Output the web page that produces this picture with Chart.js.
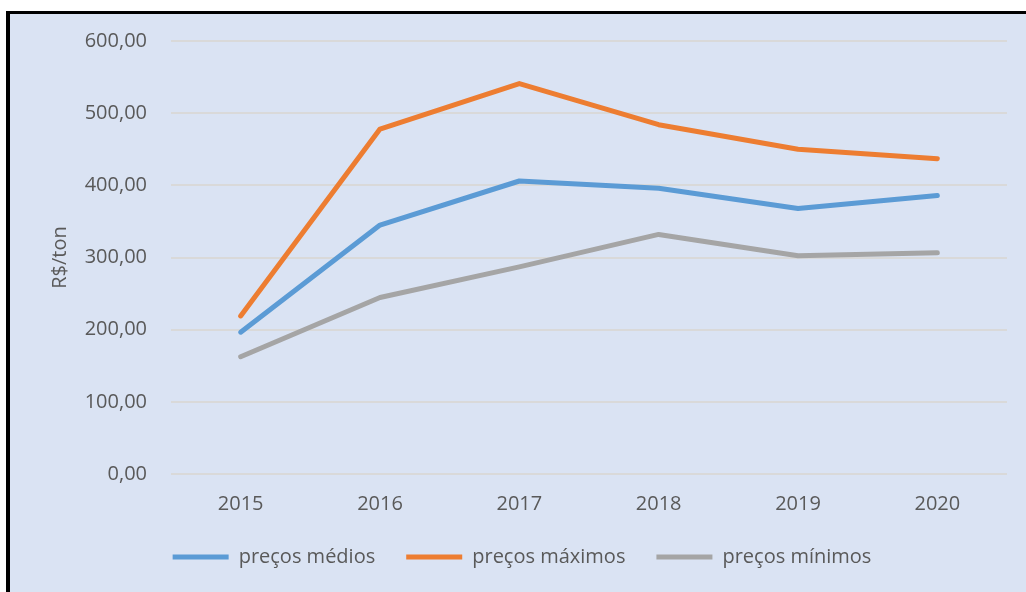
<!DOCTYPE html>
<html>
<head>
<meta charset="utf-8">
<script src="https://cdn.jsdelivr.net/npm/chart.js@4"></script>
<style>
    html, body { margin: 0; padding: 0; background: #ffffff; }
    #wrap { position: absolute; left: 0; top: 0; width: 1026px; height: 592px; }
</style>
</head>
<body>
<div id="wrap"><canvas id="priceChart" width="1026" height="592"></canvas></div>
<script>
const anos = ["2015", "2016", "2017", "2018", "2019", "2020"];
const precosMedios = [196.5, 345, 406, 396, 368, 386];
const precosMaximos = [219, 478, 541, 484, 450, 437];
const precosMinimos = [162.5, 244.5, 287, 332, 302.5, 306.5];

const textColor = "#595959";
const fontFamily = "'Open Sans', 'Noto Sans', sans-serif";

// fundo azul com borda preta (esquerda e topo)
const moldura = {
    id: "moldura",
    beforeDraw(chart) {
        const ctx = chart.ctx;
        ctx.save();
        ctx.fillStyle = "#ffffff";
        ctx.fillRect(0, 0, chart.width, chart.height);
        ctx.fillStyle = "#000000";
        ctx.fillRect(6, 11, chart.width - 6, chart.height - 11);
        ctx.fillStyle = "#DAE3F3";
        ctx.fillRect(10, 14, chart.width - 10, chart.height - 14);
        ctx.restore();
    }
};

// legenda um pouco deslocada para a direita
const legendShift = {
    id: "legendShift",
    afterLayout(chart) {
        chart.legend.left += 14;
        chart.legend.right += 14;
    }
};

function serie(label, data, color) {
    return {
        label: label,
        data: data,
        borderColor: color,
        backgroundColor: color,
        borderWidth: 5,
        borderCapStyle: "round",
        borderJoinStyle: "round",
        pointRadius: 0,
        tension: 0,
        fill: false
    };
}

new Chart(document.getElementById("priceChart"), {

    type: "line",

    data: {
        labels: anos,
        datasets: [
            serie("preços médios", precosMedios, "#5B9BD5"),
            serie("preços máximos", precosMaximos, "#ED7D31"),
            serie("preços mínimos", precosMinimos, "#A5A5A5")
        ]
    },

    options: {
        responsive: false,
        animation: false,
        layout: {
            padding: { left: 9, right: 19, top: 41, bottom: 16 }
        },
        plugins: {
            tooltip: { enabled: false },
            legend: {
                position: "bottom",
                maxHeight: 60,
                labels: {
                    usePointStyle: true,
                    pointStyle: "line",
                    pointStyleWidth: 56,
                    padding: 31,
                    color: textColor,
                    font: { family: fontFamily, size: 20 }
                }
            }
        },
        scales: {
            x: {
                offset: true,
                afterFit: s => { s.height = 42; },
                grid: { display: false, drawTicks: false },
                border: { display: false },
                ticks: {
                    padding: 18,
                    color: textColor,
                    font: { family: fontFamily, size: 20 }
                }
            },
            y: {
                min: 0,
                max: 600,
                afterFit: s => { s.width = 162; },
                grid: { color: "#D9D9D9", lineWidth: 2, drawTicks: false },
                border: { display: false },
                ticks: {
                    stepSize: 100,
                    padding: 24,
                    color: textColor,
                    font: { family: fontFamily, size: 20 },
                    callback: v => v.toFixed(2).replace(".", ",")
                },
                title: {
                    display: true,
                    text: "R$/ton",
                    color: textColor,
                    padding: { top: 39, bottom: 0 },
                    font: { family: fontFamily, size: 20 }
                }
            }
        }
    },

    plugins: [moldura, legendShift]
});
</script>
</body>
</html>
